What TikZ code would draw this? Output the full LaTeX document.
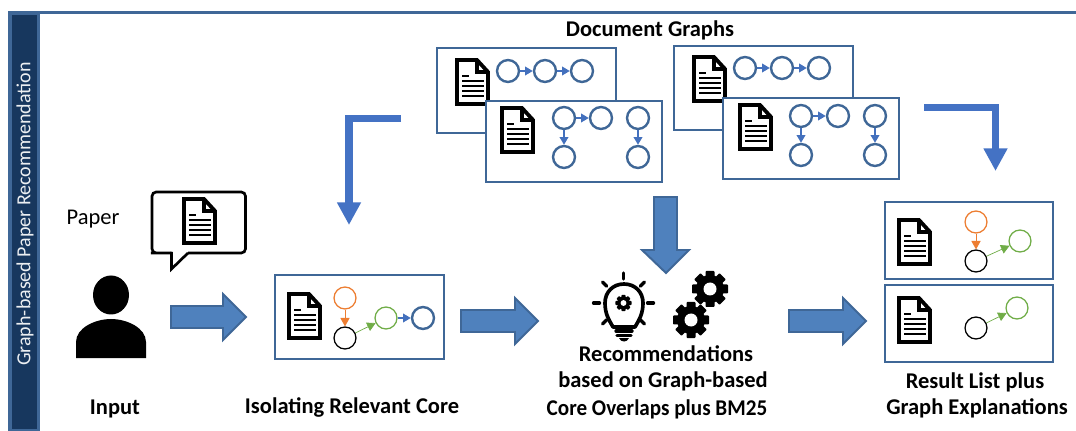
\documentclass[tikz,border=0pt]{standalone}
\usepackage{fontspec}
\setmainfont{Carlito}
\usetikzlibrary{arrows.meta}
\definecolor{barfill}{RGB}{23,55,94}
\definecolor{boxline}{RGB}{63,103,151}
\definecolor{blockfill}{RGB}{79,129,189}
\definecolor{elbowblue}{RGB}{68,114,196}
\definecolor{coreorange}{RGB}{237,125,49}
\definecolor{coregreen}{RGB}{112,173,71}
\tikzset{
  docbox/.style={draw=boxline,fill=white,line width=1.8pt},
  gnode/.style={circle,draw=boxline,line width=1.7pt,minimum size=15.6pt,inner sep=0pt},
  orangenode/.style={gnode,draw=coreorange,line width=.9pt},
  greennode/.style={gnode,draw=coregreen,line width=.9pt},
  blacknode/.style={gnode,draw=black,line width=.9pt},
  garrow/.style={-{Triangle[length=5.5pt,width=6pt]},draw=elbowblue!85!boxline,line width=1.4pt},
  orangearrow/.style={-{Triangle[length=6pt,width=6.5pt]},draw=coreorange,line width=.6pt},
  greenarrow/.style={-{Triangle[length=6pt,width=6.5pt]},draw=coregreen,line width=.5pt},
  blockarrow/.style={fill=blockfill,draw=boxline,line width=1.4pt,miter limit=10},
  elbowarrow/.style={-{Triangle[length=16pt,width=16pt]},draw=elbowblue,line width=5pt},
  title/.style={font=\fontsize{16}{16}\selectfont\bfseries,inner sep=0pt,align=center},
  pics/docicon/.style={code={
    \draw[line width=2.7pt,fill=white,line join=miter] (2,2) -- (22,2) -- (33,14) -- (33,46) -- (2,46) -- cycle;
    \draw[line width=2.2pt] (22,2) -- (22,14) -- (33,14);
    \draw[line width=1.4pt] (7,18) -- (14,18);
    \foreach \ty in {23,28,33,38} {\draw[line width=1.4pt] (7,\ty) -- (29,\ty);}
  }},
  pics/gearicon/.style={code={
    \fill circle[radius=14];
    \foreach \ang in {0,45,...,315} {\fill[rotate=\ang,rounded corners=.6pt] (-4.5,9) rectangle (4.5,18);}
    \fill[white] circle[radius=6.5];
  }}
}
\begin{document}
\begin{tikzpicture}[x=0.025cm,y=-0.025cm]
\useasboundingbox (0,0) rectangle (1076,431);

% Drawing side bar and top line
\draw[fill=barfill,draw=boxline,line width=2.2pt] (10,13) rectangle (38.5,431);
\draw[draw=boxline,line width=1.5pt] (38.5,12.5) -- (1076,12.5);
\node[rotate=90,text=white!92!barfill,inner sep=0pt,font=\fontsize{14.2}{14.2}\selectfont] (bartext) at (25,214) {Graph-based Paper Recommendation};

% Drawing user and speech bubble
\fill (111,295) ellipse [x radius=18,y radius=19.5];
\fill (76,358) -- (76,342) .. controls (76,328) and (95,319) .. (111,319) .. controls (127,319) and (146,328) .. (146,342) -- (146,358) -- cycle;
\draw[line width=1.9pt,fill=white,rounded corners=3pt] (171.5,253) -- (155,253) -- (152,253) -- (152,192) -- (245.5,192) -- (245.5,253) -- (188,253);
\draw[line width=1.9pt,line join=miter,fill=white] (171.5,252) -- (171.5,269) -- (188,253);
\pic at (182,197) {docicon};
\node[inner sep=0pt,font=\fontsize{16}{16}\selectfont] (paper) at (93,219) {Paper};

% Drawing input arrow
\draw[blockarrow] (171,306) -- (223,306) -- (223,294) -- (246,317) -- (223,340) -- (223,328) -- (171,328) -- cycle;

% Drawing relevant core
\draw[docbox] (275,275) rectangle (444,359);
\pic at (287,292) {docicon};
\node[orangenode] (coreo) at (345,298) {};
\node[blacknode] (coreb) at (345,338) {};
\node[greennode] (coreg) at (386,318) {};
\node[gnode] (corei) at (423,318) {};
\draw[orangearrow] (coreo) -- (coreb);
\draw[greenarrow] (coreb) -- (coreg);
\draw[garrow] (coreg) -- (corei);

% Drawing document graphs
\node[title] (graphs) at (650,30) {Document Graphs};
\draw[docbox] (437,48) rectangle (616,133);
\pic at (455,58) {docicon};
\node[gnode] (a1) at (508,71) {};
\node[gnode] (a2) at (545,71) {};
\node[gnode] (a3) at (582,71) {};
\draw[garrow] (a1) -- (a2);
\draw[garrow] (a2) -- (a3);

\draw[docbox] (486,101) rectangle (662,182);
\pic at (500,106) {docicon};
\node[gnode] (c1) at (564,118) {};
\node[gnode] (c2) at (601,118) {};
\node[gnode] (c3) at (638,118) {};
\node[gnode] (c4) at (564,157) {};
\node[gnode] (c5) at (638,157) {};
\draw[garrow] (c1) -- (c2);
\draw[garrow] (c1) -- (c4);
\draw[garrow] (c3) -- (c5);

\draw[docbox] (674,46) rectangle (853,130);
\pic at (692,55) {docicon};
\node[gnode] (b1) at (745,68) {};
\node[gnode] (b2) at (782,68) {};
\node[gnode] (b3) at (819,68) {};
\draw[garrow] (b1) -- (b2);
\draw[garrow] (b2) -- (b3);

\draw[docbox] (723,98) rectangle (899,179);
\pic at (738,103) {docicon};
\node[gnode] (d1) at (801,116) {};
\node[gnode] (d2) at (838,116) {};
\node[gnode] (d3) at (875,116) {};
\node[gnode] (d4) at (801,155) {};
\node[gnode] (d5) at (875,155) {};
\draw[garrow] (d1) -- (d2);
\draw[garrow] (d1) -- (d4);
\draw[garrow] (d3) -- (d5);

% Drawing elbow arrows
\coordinate (leftstart) at (401,118.5);
\coordinate (lefttip) at (349,225);
\coordinate (rightstart) at (924,107.5);
\coordinate (righttip) at (995.5,171);
\draw[elbowarrow] (leftstart) -| (lefttip);
\draw[elbowarrow] (rightstart) -| (righttip);

% Drawing remaining block arrows
\draw[blockarrow] (654,197) -- (677,197) -- (677,250) -- (689,250) -- (666,273) -- (642,250) -- (654,250) -- cycle;
\draw[blockarrow] (461,310) -- (515,310) -- (515,298) -- (538,321) -- (515,344) -- (515,332) -- (461,332) -- cycle;
\draw[blockarrow] (789,310) -- (843,310) -- (843,298) -- (866,321) -- (843,344) -- (843,332) -- (789,332) -- cycle;

% Drawing bulb and gears
\draw[line width=2.6pt,line join=round] (613,327) .. controls (609,320) and (605,314) .. (605,303) .. controls (605,292) and (613,284) .. (624,284) .. controls (635,284) and (643,292) .. (643,303) .. controls (643,314) and (639,320) .. (635,327) -- cycle;
\pic[scale=.45] at (623.5,303) {gearicon};
\foreach \ux/\uy in {1/0,-1/0,0/-1,.7/-.7,-.7/-.7,.7/.7,-.7/.7} {\draw[line width=2.4pt,line cap=round] (623.5+24*\ux,303+24*\uy) -- (623.5+30*\ux,303+30*\uy);}
\draw[line width=2.4pt,line cap=round] (616,331) -- (632,331);
\draw[line width=2.4pt,line cap=round] (617,335.5) -- (631,335.5);
\fill (619,338) -- (629,338) .. controls (628,340.5) and (626,341.5) .. (624,341.5) .. controls (622,341.5) and (620,340.5) .. (619,338) -- cycle;
\pic at (710,289) {gearicon};
\pic at (691,320) {gearicon};

% Drawing result list
\draw[docbox] (885,202) rectangle (1053,279);
\pic at (897,218) {docicon};
\node[orangenode] (ro) at (976,222) {};
\node[blacknode] (rb) at (976,261) {};
\node[greennode] (rg) at (1020,241) {};
\draw[orangearrow] (ro) -- (rb);
\draw[greenarrow] (rb) -- (rg);

\draw[docbox] (885,285) rectangle (1053,362);
\pic at (897,296) {docicon};
\node[blacknode] (sb) at (976,328) {};
\node[greennode] (sg) at (1017,308) {};
\draw[greenarrow] (sb) -- (sg);

% Drawing captions
\node[title] (input) at (115,409) {Input};
\node[title] (isolate) at (352,407) {Isolating Relevant Core};
\node[title] (rec1) at (666,354) {Recommendations};
\node[title] (rec2) at (663,381) {based on Graph-based};
\node[title,xscale=.94] (rec3) at (657,409) {Core Overlaps plus BM25};
\node[title] (res1) at (975,382) {Result List plus};
\node[title] (res2) at (977,408) {Graph Explanations};
\end{tikzpicture}
\end{document}
